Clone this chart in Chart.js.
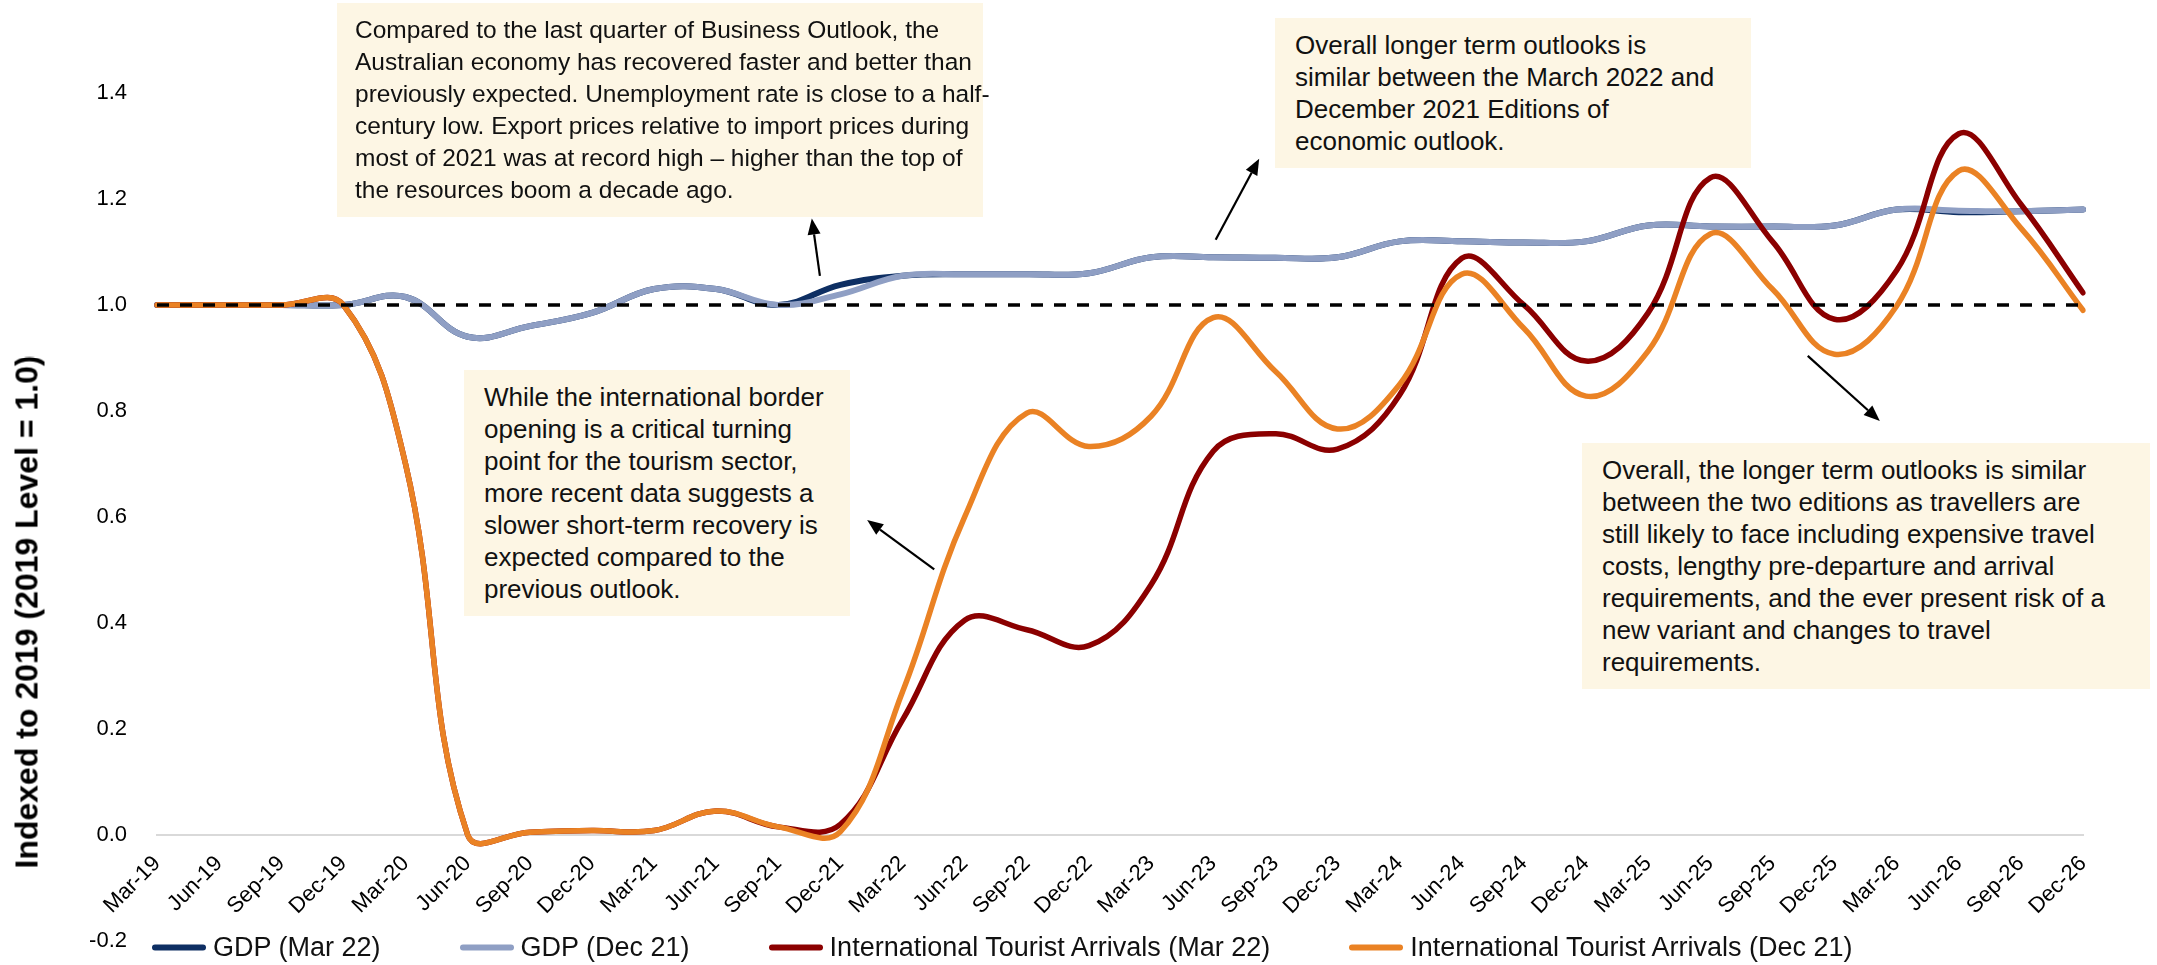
<!DOCTYPE html>
<html>
<head>
<meta charset="utf-8">
<script src="https://cdn.jsdelivr.net/npm/chart.js@4.4.1/dist/chart.umd.min.js"></script>
<style>
  html, body { margin: 0; padding: 0; background: #fff; }
  body { font-family: "Liberation Sans", Arial, sans-serif; color: #111; }
  #wrap { position: relative; width: 2157px; height: 965px; overflow: hidden; }
  #chartBox { position: absolute; left: 0; top: 0; width: 2157px; height: 984px; }
  .note {
    position: absolute; background: #fdf6e4; color: #111;
    font-size: 26px; line-height: 32px; padding: 11px 20px;
    box-sizing: border-box; white-space: nowrap;
  }
  #ytitle {
    position: absolute; left: 27px; top: 612px;
    transform: translate(-50%, -50%) rotate(-90deg);
    font-weight: bold; font-size: 32px; white-space: nowrap; color: #000;
  }
  #legend {
    position: absolute; left: 152px; top: 947px; transform: translateY(-50%);
    display: flex; gap: 79px; font-size: 27px; color: #111; white-space: nowrap;
  }
  #legend .item { display: flex; align-items: center; }
  #legend .swatch { width: 54px; height: 6px; margin-right: 7px; border-radius: 3px; }
</style>
</head>
<body>
<div id="wrap">
  <div id="chartBox"><canvas id="chart"></canvas></div>

  <div id="ytitle">Indexed to 2019 (2019 Level = 1.0)</div>

  <div class="note" style="left:337px; top:3px; width:646px; height:214px; font-size:24.5px; padding-left:18px;">
    Compared to the last quarter of Business Outlook, the<br>
    Australian economy has recovered faster and better than<br>
    previously expected. Unemployment rate is close to a half-<br>
    century low. Export prices relative to import prices during<br>
    most of 2021 was at record high – higher than the top of<br>
    the resources boom a decade ago.
  </div>
  <div class="note" style="left:464px; top:370px; width:386px; height:246px;">
    While the international border<br>
    opening is a critical turning<br>
    point for the tourism sector,<br>
    more recent data suggests a<br>
    slower short-term recovery is<br>
    expected compared to the<br>
    previous outlook.
  </div>
  <div class="note" style="left:1275px; top:18px; width:476px; height:150px;">
    Overall longer term outlooks is<br>
    similar between the March 2022 and<br>
    December 2021 Editions of<br>
    economic outlook.
  </div>
  <div class="note" style="left:1582px; top:443px; width:568px; height:246px;">
    Overall, the longer term outlooks is similar<br>
    between the two editions as travellers are<br>
    still likely to face including expensive travel<br>
    costs, lengthy pre-departure and arrival<br>
    requirements, and the ever present risk of a<br>
    new variant and changes to travel<br>
    requirements.
  </div>

  <div id="legend"></div>
</div>

<script>
// 四半期ごとの指数（2019年 = 1.0）
const quarters = [
  "Mar-19", "Jun-19", "Sep-19", "Dec-19", "Mar-20", "Jun-20", "Sep-20", "Dec-20",
  "Mar-21", "Jun-21", "Sep-21", "Dec-21", "Mar-22", "Jun-22", "Sep-22", "Dec-22",
  "Mar-23", "Jun-23", "Sep-23", "Dec-23", "Mar-24", "Jun-24", "Sep-24", "Dec-24",
  "Mar-25", "Jun-25", "Sep-25", "Dec-25", "Mar-26", "Jun-26", "Sep-26", "Dec-26",
];

const gdpMar22 = [
  1.0, 1.0, 1.0, 1.0, 1.015, 0.94, 0.96, 0.985,
  1.03, 1.03, 1.0, 1.038, 1.055, 1.058, 1.058, 1.06,
  1.09, 1.09, 1.089, 1.09, 1.12, 1.12, 1.118, 1.12,
  1.15, 1.148, 1.148, 1.15, 1.18, 1.175, 1.177, 1.18,
];
const gdpDec21 = [
  1.0, 1.0, 1.0, 1.0, 1.015, 0.94, 0.96, 0.985,
  1.03, 1.03, 1.0, 1.02, 1.055, 1.058, 1.058, 1.06,
  1.09, 1.09, 1.089, 1.09, 1.12, 1.12, 1.118, 1.12,
  1.15, 1.148, 1.148, 1.15, 1.18, 1.178, 1.177, 1.18,
];
const arrivalsMar22 = [
  1.0, 1.0, 1.0, 1.0, 0.70, 0.0, 0.005, 0.008,
  0.008, 0.045, 0.015, 0.02, 0.217, 0.405, 0.387, 0.357,
  0.472, 0.724, 0.757, 0.728, 0.83, 1.088, 1.0, 0.894,
  0.985, 1.24, 1.12, 0.973, 1.065, 1.323, 1.19, 1.023,
];
const arrivalsDec21 = [
  1.0, 1.0, 1.0, 1.0, 0.70, 0.0, 0.005, 0.008,
  0.008, 0.045, 0.015, 0.006, 0.27, 0.6, 0.796, 0.733,
  0.79, 0.976, 0.875, 0.766, 0.85, 1.058, 0.956, 0.828,
  0.913, 1.134, 1.03, 0.907, 0.998, 1.253, 1.145, 0.99,
];
const level2019 = [
  1, 1, 1, 1, 1, 1, 1, 1, 1, 1, 1, 1, 1, 1, 1, 1,
  1, 1, 1, 1, 1, 1, 1, 1, 1, 1, 1, 1, 1, 1, 1, 1,
];

const yMin = -0.2;
const yMax = 1.4;
const yStep = 0.2;

// 吹き出しの矢印（[四半期インデックス, 指数]）
const noteArrows = [
  { from: [10.67, 1.055], to: [10.54, 1.163] },
  { from: [17.04, 1.123], to: [17.74, 1.276] },
  { from: [12.51, 0.501], to: [11.43, 0.594] },
  { from: [26.57, 0.904], to: [27.73, 0.781] },
];

const FONT = "'Liberation Sans', Arial, sans-serif";
const COLORS = {
  gdpMar22: "#0e2f63",
  gdpDec21: "#8f9fc4",
  arrMar22: "#8b0000",
  arrDec21: "#ea8224",
  axis: "#d9d9d9",
};

const series = [
  { label: "GDP (Mar 22)", data: gdpMar22, color: COLORS.gdpMar22, order: 4 },
  { label: "GDP (Dec 21)", data: gdpDec21, color: COLORS.gdpDec21, order: 3 },
  { label: "International Tourist Arrivals (Mar 22)", data: arrivalsMar22, color: COLORS.arrMar22, order: 2 },
  { label: "International Tourist Arrivals (Dec 21)", data: arrivalsDec21, color: COLORS.arrDec21, order: 1 },
];

const arrowPlugin = {
  id: "noteArrows",
  afterDatasetsDraw(chart) {
    const { ctx, scales: { x, y } } = chart;
    ctx.save();
    ctx.strokeStyle = "#000";
    ctx.fillStyle = "#000";
    ctx.lineWidth = 2.2;
    noteArrows.forEach((a) => {
      const x1 = x.getPixelForValue(a.from[0]), y1 = y.getPixelForValue(a.from[1]);
      const x2 = x.getPixelForValue(a.to[0]), y2 = y.getPixelForValue(a.to[1]);
      const ang = Math.atan2(y2 - y1, x2 - x1);
      const head = 16, half = 6.5;
      const bx = x2 - head * Math.cos(ang), by = y2 - head * Math.sin(ang);
      ctx.beginPath();
      ctx.moveTo(x1, y1);
      ctx.lineTo(bx, by);
      ctx.stroke();
      ctx.beginPath();
      ctx.moveTo(x2, y2);
      ctx.lineTo(bx + half * Math.sin(ang), by - half * Math.cos(ang));
      ctx.lineTo(bx - half * Math.sin(ang), by + half * Math.cos(ang));
      ctx.closePath();
      ctx.fill();
    });
    ctx.restore();
  },
};

new Chart(document.getElementById("chart"), {
  type: "line",
  data: {
    labels: quarters,
    datasets: [
      ...series.map((s) => ({
        label: s.label,
        data: s.data,
        borderColor: s.color,
        backgroundColor: s.color,
        borderWidth: s.label.startsWith("GDP") ? 6 : 5.5,
        borderCapStyle: "round",
        borderJoinStyle: "round",
        pointRadius: 0,
        tension: 0.4,
        order: s.order,
      })),
      {
        label: "2019 Level",
        data: level2019,
        borderColor: "#000",
        borderWidth: 3.5,
        borderDash: [12, 11],
        pointRadius: 0,
        tension: 0,
        order: 0,
      },
    ],
  },
  options: {
    responsive: true,
    maintainAspectRatio: false,
    animation: false,
    events: [],
    layout: { padding: { top: 93, bottom: 13, left: 0, right: 74 } },
    plugins: {
      legend: { display: false },
      tooltip: { enabled: false },
    },
    scales: {
      x: {
        type: "category",
        position: { y: 0 },
        offset: false,
        grid: { display: false, drawTicks: false },
        border: { display: true, color: COLORS.axis, width: 2 },
        ticks: {
          autoSkip: false, maxRotation: 45, minRotation: 45, padding: 16,
          color: "#000", font: { size: 22, family: FONT },
        },
        afterFit: (s) => { s.height = 0; },
      },
      y: {
        min: yMin,
        max: yMax,
        grid: { display: false, drawTicks: false },
        border: { display: false },
        ticks: {
          stepSize: yStep, padding: 30, color: "#000",
          font: { size: 22, family: FONT },
          callback: (v) => (Math.abs(v) < 1e-9 ? 0 : v).toFixed(1),
        },
        afterFit: (s) => { s.width = 157; },
      },
    },
  },
  plugins: [arrowPlugin],
});

document.getElementById("legend").innerHTML = series.map((s) => `
  <div class="item"><span class="swatch" style="background:${s.color}"></span>${s.label}</div>`).join("");
</script>
</body>
</html>
